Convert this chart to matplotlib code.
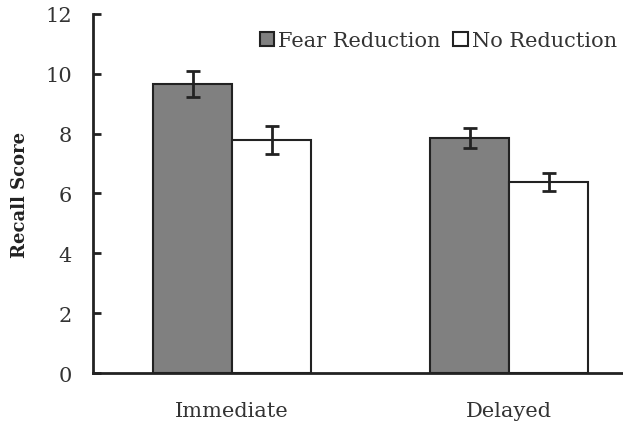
import matplotlib
matplotlib.use("Agg")
import matplotlib.pyplot as plt
import numpy as np

categories = ["Immediate", "Delayed"]
fear = [9.65, 7.85]
fear_err = [0.44, 0.33]
nored = [7.79, 6.40]
nored_err = [0.48, 0.30]
yticks = [0, 2, 4, 6, 8, 10, 12]

plt.rcParams['font.family'] = ['DejaVu Serif']

fig = plt.figure(figsize=(6.23, 4.27), dpi=100)
ax = fig.add_axes([0.149, 0.124, 0.851, 0.841])

x = np.arange(len(categories))
w = 0.285
ec = '#222222'
ax.bar(x - w/2, fear, w, color='#808080', edgecolor=ec, linewidth=1.5,
       label='Fear Reduction', zorder=2)
ax.bar(x + w/2, nored, w, color='white', edgecolor=ec, linewidth=1.5,
       label='No Reduction', zorder=2)
ax.errorbar(x - w/2, fear, yerr=fear_err, fmt='none', ecolor=ec,
            elinewidth=2, capsize=5, capthick=2, zorder=3)
ax.errorbar(x + w/2, nored, yerr=nored_err, fmt='none', ecolor=ec,
            elinewidth=2, capsize=5, capthick=2, zorder=3)

ax.set_xlim(-0.502, 1.41)
ax.set_ylim(0, 12)
ax.set_yticks(yticks)
ax.set_xticks(x)
ax.set_xticklabels(categories)
ax.tick_params(axis='y', direction='in', length=6, width=2, labelsize=15,
               pad=15, colors=ec, labelcolor='#333333')
ax.tick_params(axis='x', length=0, labelsize=15, pad=20, labelcolor='#333333')
for s in ['top', 'right']:
    ax.spines[s].set_visible(False)
for s in ['left', 'bottom']:
    ax.spines[s].set_linewidth(2)
    ax.spines[s].set_color(ec)
ax.set_ylabel('Recall Score', fontsize=13, fontweight='bold', labelpad=12,
              color='#222222')

leg = ax.legend(loc='upper right', bbox_to_anchor=(1.005, 0.975), ncol=2,
                frameon=False, fontsize=15, handlelength=0.7, handleheight=0.7,
                handletextpad=0.2, columnspacing=0.6, borderaxespad=0)
for t in leg.get_texts():
    t.set_color('#333333')

fig.savefig('out.png', dpi=100)
